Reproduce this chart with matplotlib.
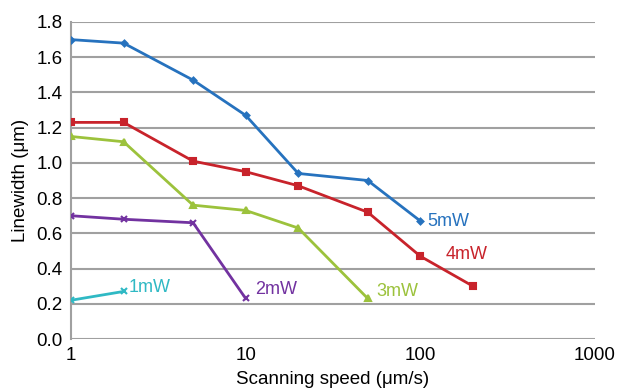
import numpy as np
import matplotlib.pyplot as plt

plt.rcParams['font.family'] = ['Liberation Sans', 'DejaVu Sans']

# linewidth vs scanning speed for each laser power
speed_5mw = [1, 2, 5, 10, 20, 50, 100]
width_5mw = [1.70, 1.68, 1.47, 1.27, 0.94, 0.90, 0.67]
speed_4mw = [1, 2, 5, 10, 20, 50, 100, 200]
width_4mw = [1.23, 1.23, 1.01, 0.95, 0.87, 0.72, 0.47, 0.30]
speed_3mw = [1, 2, 5, 10, 20, 50]
width_3mw = [1.15, 1.12, 0.76, 0.73, 0.63, 0.23]
speed_2mw = [1, 2, 5, 10]
width_2mw = [0.70, 0.68, 0.66, 0.23]
speed_1mw = [1, 2]
width_1mw = [0.22, 0.27]

labels = ["5mW", "4mW", "3mW", "2mW", "1mW"]
label_pos = [(110, 0.67), (140, 0.48), (56, 0.27), (11.3, 0.28), (2.15, 0.29)]

series = [
    (speed_5mw, width_5mw, '#2672be', 'D', 3),
    (speed_4mw, width_4mw, '#c8232b', 's', 5),
    (speed_3mw, width_3mw, '#9cc23c', '^', 4),
    (speed_2mw, width_2mw, '#7232a0', 'x', 4),
    (speed_1mw, width_1mw, '#2fb9c4', 'x', 4),
]

fig = plt.figure(figsize=(6.19, 3.92), dpi=100)
ax = fig.add_axes([71/619, 1 - 339/392, 524/619, 317/392])

for (xs, ys, col, mk, ms), lab, pos in zip(series, labels, label_pos):
    ax.plot(xs, ys, color=col, lw=2, marker=mk, ms=ms, mew=1.5, zorder=3)
    ax.text(pos[0], pos[1], lab, color=col, fontsize=13, va='center', ha='left')

ax.set_xscale('log')
ax.set_xlim(1, 1000)
ax.set_ylim(0, 1.8)
ax.set_yticks(np.arange(0, 1.81, 0.2))
ax.set_yticklabels([f"{v:.1f}" for v in np.arange(0, 1.81, 0.2)])
ax.set_xticks([1, 10, 100, 1000])
ax.set_xticklabels(["1", "10", "100", "1000"])
ax.minorticks_off()
ax.tick_params(axis='both', length=0, labelsize=13.5, pad=6)

ax.grid(axis='y', color='#a0a0a0', lw=1.5)
ax.set_axisbelow(True)
for s in ['top', 'right', 'bottom']:
    ax.spines[s].set_visible(False)
ax.spines['left'].set_color('#a0a0a0')
ax.spines['left'].set_linewidth(1.5)

ax.set_xlabel("Scanning speed (μm/s)", fontsize=13.5, labelpad=5)
ax.set_ylabel("Linewidth (μm)", fontsize=13.5, labelpad=5)

fig.savefig("out.png", dpi=100)
